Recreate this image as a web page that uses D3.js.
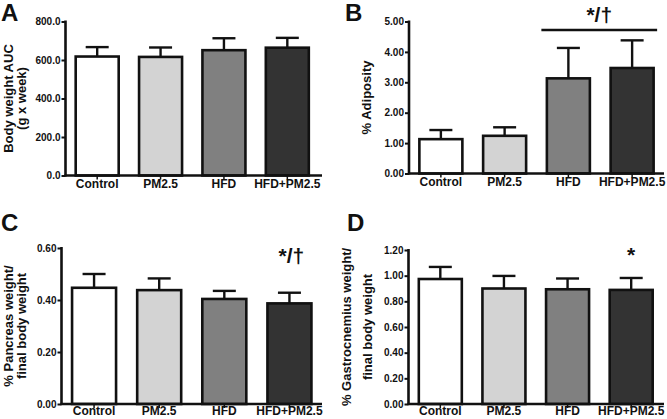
<!DOCTYPE html>
<html><head><meta charset="utf-8">
<script src="https://cdn.jsdelivr.net/npm/d3@7/dist/d3.min.js"></script>
<style>
body{margin:0;background:#fff;}
svg{display:block;font-family:"Liberation Sans",Arial,sans-serif;font-weight:bold;}
</style></head><body>
<svg id="chart" width="667" height="419"></svg>
<script>
const categories = ["Control", "PM2.5", "HFD", "HFD+PM2.5"];
const fills = ["#ffffff", "#d3d3d3", "#808080", "#333333"];

const bodyWeightAUC = [618, 616, 651, 664];
const bodyWeightAUCErr = [49, 49, 62, 51];
const bodyWeightTicks = [0, 200, 400, 600, 800];

const adiposity = [1.13, 1.24, 3.13, 3.47];
const adiposityErr = [0.30, 0.28, 1.00, 0.91];
const adiposityTicks = [0, 1, 2, 3, 4, 5];

const pancreas = [0.447, 0.438, 0.404, 0.387];
const pancreasErr = [0.053, 0.045, 0.031, 0.041];
const pancreasTicks = [0, 0.2, 0.4, 0.6];

const gastrocnemius = [0.974, 0.900, 0.894, 0.889];
const gastrocnemiusErr = [0.094, 0.098, 0.084, 0.093];
const gastrocnemiusTicks = [0, 0.2, 0.4, 0.6, 0.8, 1.0, 1.2];

const svg = d3.select("#chart");
const ink = "#111";

function panel(o) {
  const g = svg.append("g");
  const x = d3.scaleBand().domain(categories).range([o.x0, o.x1]);
  const y = d3.scaleLinear().domain([0, o.max]).range([o.y0, o.y1]);
  const bw = o.bw;

  g.selectAll("rect.bar").data(o.values).join("rect")
    .attr("x", (d, i) => x(categories[i]) + x.bandwidth() / 2 - bw / 2)
    .attr("y", d => y(d))
    .attr("width", bw)
    .attr("height", d => y(0) - y(d))
    .attr("fill", (d, i) => fills[i])
    .attr("stroke", ink).attr("stroke-width", 2.6);

  o.values.forEach((v, i) => {
    const cx = x(categories[i]) + x.bandwidth() / 2;
    g.append("line").attr("x1", cx).attr("x2", cx)
      .attr("y1", y(v)).attr("y2", y(v + o.err[i]))
      .attr("stroke", ink).attr("stroke-width", 2.4);
    g.append("line").attr("x1", cx - 11.5).attr("x2", cx + 11.5)
      .attr("y1", y(v + o.err[i])).attr("y2", y(v + o.err[i]))
      .attr("stroke", ink).attr("stroke-width", 2.4);
  });

  const yAxis = d3.axisLeft(y).tickValues(o.ticks).tickFormat(d3.format(o.fmt)).tickSize(4).tickPadding(1);
  const ya = g.append("g").attr("transform", `translate(${o.x0},0)`).call(yAxis);
  ya.select(".domain").attr("stroke", ink).attr("stroke-width", 2.6).attr("d", `M0,${o.y0 + 1}V${o.y1 - 1}`);
  ya.selectAll(".tick line").attr("stroke", ink).attr("stroke-width", 2);
  ya.selectAll(".tick text").attr("font-size", 10).attr("font-weight", "bold")
    .attr("font-family", "Liberation Sans, Arial, sans-serif").attr("fill", ink);

  const xAxis = d3.axisBottom(x).tickSize(4).tickPadding(o.xPad);
  const xa = g.append("g").attr("transform", `translate(0,${o.y0})`).call(xAxis);
  xa.select(".domain").attr("stroke", ink).attr("stroke-width", 2.6).attr("d", `M${o.x0 - 1},0H${o.xEnd}`);
  xa.selectAll(".tick line").attr("stroke", ink).attr("stroke-width", 1.5);
  xa.selectAll(".tick text").attr("font-size", 12).attr("font-weight", "bold")
    .attr("font-family", "Liberation Sans, Arial, sans-serif").attr("fill", ink);

  const cy = (o.y0 + o.y1) / 2;
  o.title.forEach((t, i) => {
    g.append("text").attr("transform", `translate(${o.titleX[i]},${cy}) rotate(-90)`)
      .attr("text-anchor", "middle").attr("dominant-baseline", "central")
      .attr("font-size", 13).attr("fill", ink).text(t);
  });

  g.append("text").attr("x", o.letterX).attr("y", o.letterY)
    .attr("font-size", 24).attr("fill", ink).text(o.letter);

  return { g, x, y };
}

const A = panel({ x0: 65.5, x1: 319, xEnd: 322, y0: 175.5, y1: 21.5, max: 800, bw: 43, xPad: 0,
  values: bodyWeightAUC, err: bodyWeightAUCErr, ticks: bodyWeightTicks, fmt: ".1f",
  title: ["Body weight AUC", "(g x week)"], titleX: [8, 21.5], letter: "A", letterX: 1, letterY: 21 });

const B = panel({ x0: 409, x1: 664, xEnd: 664, y0: 173.5, y1: 21.5, max: 5, bw: 43, xPad: 0,
  values: adiposity, err: adiposityErr, ticks: adiposityTicks, fmt: ".2f",
  title: ["% Adiposity"], titleX: [366], letter: "B", letterX: 345, letterY: 21 });

const C = panel({ x0: 61.5, x1: 322, xEnd: 322, y0: 404, y1: 248, max: 0.6, bw: 44, xPad: -2,
  values: pancreas, err: pancreasErr, ticks: pancreasTicks, fmt: ".2f",
  title: ["% Pancreas weight/", "final body weight"], titleX: [8, 21.5], letter: "C", letterX: 1, letterY: 231 });

const D = panel({ x0: 408.5, x1: 663, xEnd: 664, y0: 404, y1: 250, max: 1.2, bw: 43, xPad: -2,
  values: gastrocnemius, err: gastrocnemiusErr, ticks: gastrocnemiusTicks, fmt: ".2f",
  title: ["% Gastrocnemius weight/", "final body weight"], titleX: [346, 367], letter: "D", letterX: 347, letterY: 231 });

const bx = B.x;
const l0 = bx("HFD") + bx.bandwidth() / 2 - 27;
const l1 = bx("HFD+PM2.5") + bx.bandwidth() / 2 + 25;
B.g.append("line").attr("x1", l0).attr("x2", l1).attr("y1", 30).attr("y2", 30)
  .attr("stroke", ink).attr("stroke-width", 2.4);
B.g.append("text").attr("x", (l0 + l1) / 2).attr("y", 22).attr("text-anchor", "middle")
  .attr("font-size", 21).attr("fill", ink).text("*/†");

C.g.append("text").attr("x", C.x("HFD+PM2.5") + C.x.bandwidth() / 2 + 2).attr("y", 263)
  .attr("text-anchor", "middle").attr("font-size", 21).attr("fill", ink).text("*/†");

D.g.append("text").attr("x", D.x("HFD+PM2.5") + D.x.bandwidth() / 2).attr("y", 262)
  .attr("text-anchor", "middle").attr("font-size", 21).attr("fill", ink).text("*");
</script>
</body></html>
